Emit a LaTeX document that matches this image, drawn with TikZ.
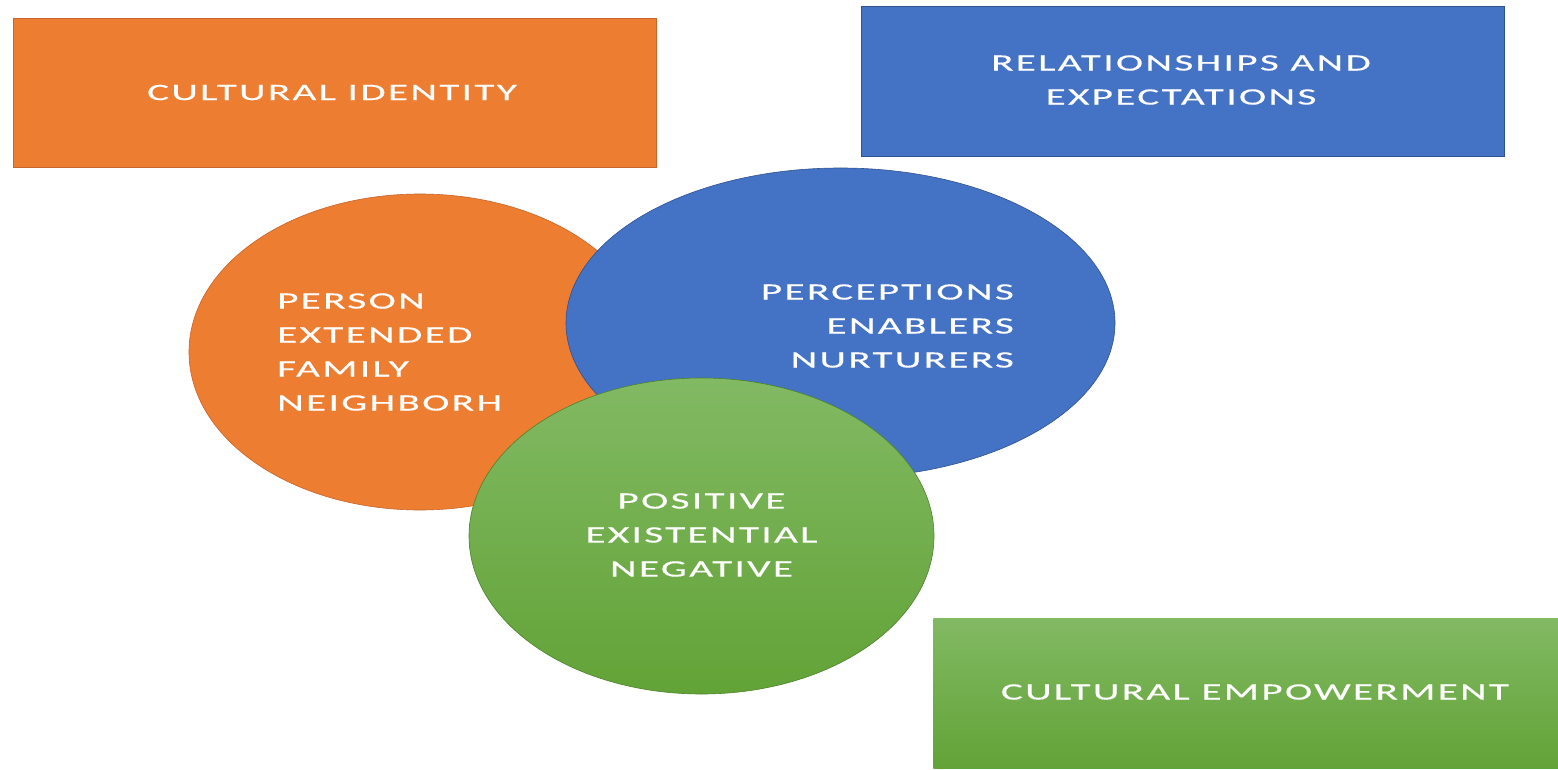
\documentclass[tikz,border=0pt]{standalone}
\usepackage{fontspec}
\setmainfont{Carlito}[FakeStretch=1.75,LetterSpace=10,FakeBold=0.4]
\usepackage{xcolor}
\usepackage{tikz}
\usetikzlibrary{shapes.geometric}
\definecolor{orng}{HTML}{ED7D31}
\definecolor{orngdark}{HTML}{C8652A}
\definecolor{blu}{HTML}{4472C4}
\definecolor{bludark}{HTML}{2F528F}
\definecolor{grntop}{HTML}{82B963}
\definecolor{grnbot}{HTML}{62A337}

\begin{document}
\begin{tikzpicture}[x=1pt,y=-1pt,
	box/.style={rectangle,inner sep=0pt,line width=0.8pt},
	bubble/.style={ellipse,inner sep=0pt,line width=0.6pt},
	lbl/.style={text=white,font=\fontsize{23.5}{34}\selectfont,inner sep=0pt}]
		\useasboundingbox (0,0) rectangle (1558,770);
		\fill[white] (0,0) rectangle (1558,770);
		% top boxes
		\node[box,fill=orng,draw=orngdark,minimum width=643pt,minimum height=149pt] (ident) at (334.5,92.5) {};
		\node[lbl] (identtxt) at (332,92.5) {CULTURAL IDENTITY};
		\node[box,fill=blu,draw=bludark,minimum width=643pt,minimum height=150pt] (relat) at (1182.5,81) {};
		\node[lbl,align=center] (relattxt) at (1181,80) {RELATIONSHIPS AND\\EXPECTATIONS};
		% bubbles
		\node[bubble,fill=orng,draw=orngdark,minimum width=462pt,minimum height=316pt] (pers) at (420,352) {};
		\node[bubble,fill=blu,draw=bludark,minimum width=549pt,minimum height=310pt] (perc) at (840.5,323) {};
		\node[bubble,top color=grntop,bottom color=grnbot,draw=grnbot!80!black,minimum width=465pt,minimum height=316pt] (posi) at (701.5,536) {};
		\node[lbl,align=left,anchor=west] (perstxt) at (277,352) {PERSON\\EXTENDED\\FAMILY\\NEIGHBORH};
		\node[lbl,align=right,anchor=east] (perctxt) at (1014,326) {PERCEPTIONS\\ENABLERS\\NURTURERS};
		\node[lbl,align=center] (positxt) at (701.5,535) {POSITIVE\\EXISTENTIAL\\NEGATIVE};
		% bottom box
		\node[box,top color=grntop,bottom color=grnbot,minimum width=640pt,minimum height=150pt,anchor=north west] (empow) at (933,618) {};
		\node[lbl] (empowtxt) at (1255,692) {CULTURAL EMPOWERMENT};
\end{tikzpicture}
\end{document}
